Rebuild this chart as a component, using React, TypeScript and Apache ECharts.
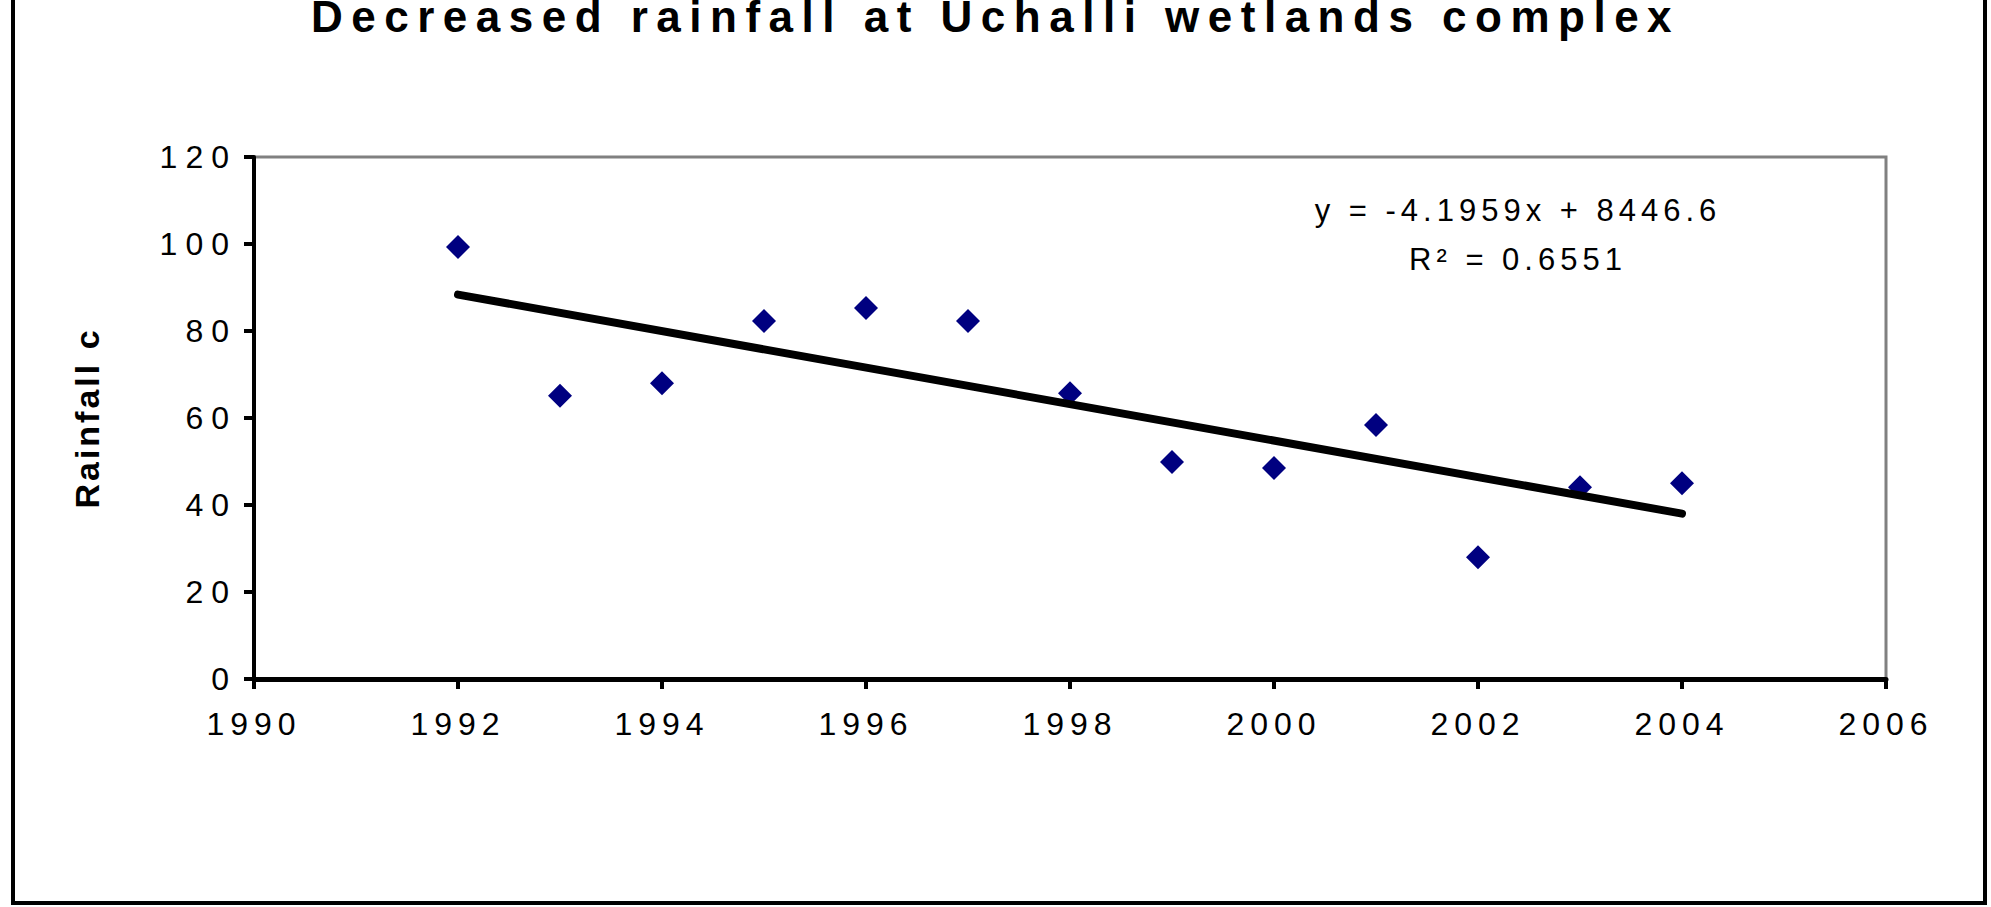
import { useEffect, useRef } from 'react';
import * as echarts from 'echarts';

const TITLE = 'Decreased rainfall at Uchalli wetlands complex';
const Y_NAME = 'Rainfall c';
const years = [1992, 1993, 1994, 1995, 1996, 1997, 1998, 1999, 2000, 2001, 2002, 2003, 2004];
const rainfall = [99.3, 65.1, 68.0, 82.3, 85.3, 82.3, 65.7, 49.9, 48.5, 58.4, 28.0, 44.1, 45.0];
const xRange = [1990, 2006];
const xStep = 2;
const yRange = [0, 120];
const yStep = 20;
const trendSlope = -4.1959;
const trendIntercept = 8446.6;
const equationText = 'y = -4.1959x + 8446.6';
const r2Text = 'R\u00B2 = 0.6551';

const FONT = '"Liberation Sans", Arial, sans-serif';

export default function App() {
  const ref = useRef<HTMLDivElement>(null);
  useEffect(() => {
    const el = ref.current;
    if (!el) return;
    const chart = echarts.init(el, undefined, { renderer: 'svg' });
    const tStart = years[0];
    const tEnd = years[years.length - 1];
    const trend = [
      [tStart, trendSlope * tStart + trendIntercept],
      [tEnd, trendSlope * tEnd + trendIntercept],
    ];
    chart.setOption({
      animation: false,
      backgroundColor: '#ffffff',
      title: {
        text: TITLE,
        left: 'center',
        top: -11,
        textStyle: { fontFamily: FONT, fontSize: 44, fontWeight: 'bold', color: '#000' },
      },
      grid: {
        left: 254,
        right: 105,
        top: 157,
        bottom: 228,
        show: true,
        borderColor: '#808080',
        borderWidth: 3,
        backgroundColor: 'transparent',
      },
      xAxis: {
        type: 'value',
        min: xRange[0],
        max: xRange[1],
        interval: xStep,
        z: 5,
        axisLine: { show: true, onZero: false, lineStyle: { color: '#000', width: 5 } },
        axisTick: { show: true, length: 10, lineStyle: { color: '#000', width: 4 } },
        splitLine: { show: false },
        axisLabel: {
          margin: 29,
          fontFamily: FONT,
          fontSize: 32,
          color: '#000',
          formatter: (v: number) => String(v),
        },
      },
      yAxis: {
        type: 'value',
        min: yRange[0],
        max: yRange[1],
        interval: yStep,
        z: 5,
        name: Y_NAME,
        nameLocation: 'middle',
        nameRotate: 90,
        nameGap: 150,
        nameTextStyle: { fontFamily: FONT, fontSize: 34, fontWeight: 'bold', color: '#000' },
        axisLine: { show: true, onZero: false, lineStyle: { color: '#000', width: 4 } },
        axisTick: { show: true, length: 10, lineStyle: { color: '#000', width: 4 } },
        splitLine: { show: false },
        axisLabel: {
          margin: 17,
          fontFamily: FONT,
          fontSize: 32,
          color: '#000',
          formatter: (v: number) => String(v),
        },
      },
      graphic: [
        {
          type: 'rect',
          shape: { x: 13, y: -20, width: 1972, height: 923 },
          style: { fill: 'none', stroke: '#000', lineWidth: 4 },
          silent: true,
        },
        {
          type: 'text',
          x: 1518,
          y: 210,
          style: {
            text: equationText,
            font: `31px ${FONT}`,
            fill: '#000',
            textAlign: 'center',
            textVerticalAlign: 'middle',
          },
        },
        {
          type: 'text',
          x: 1518,
          y: 259,
          style: {
            text: r2Text,
            font: `31px ${FONT}`,
            fill: '#000',
            textAlign: 'center',
            textVerticalAlign: 'middle',
          },
        },
      ],
      series: [
        {
          type: 'scatter',
          data: years.map((y, i) => [y, rainfall[i]]),
          symbol: 'diamond',
          symbolSize: 24,
          itemStyle: { color: '#000080', opacity: 1 },
          z: 2,
        },
        {
          type: 'line',
          data: trend,
          symbol: 'none',
          z: 3,
          lineStyle: { color: '#000', width: 8, cap: 'round' },
        },
      ],
    });

    const spacing = () => {
      el.querySelectorAll('text').forEach((t) => {
        const s = t.textContent || '';
        let ls = 0;
        if (s === TITLE) ls = 8.5;
        else if (s === Y_NAME) ls = 3;
        else if (s === equationText || s === r2Text) ls = 5;
        else if (/^\d{4}$/.test(s)) ls = 6;
        else if (/^\d+$/.test(s)) ls = 8;
        if (ls) t.setAttribute('letter-spacing', String(ls));
      });
    };
    spacing();
    chart.on('finished', spacing);
    const timer = setTimeout(spacing, 50);
    return () => {
      clearTimeout(timer);
      chart.dispose();
    };
  }, []);
  return (
    <div
      ref={ref}
      style={{ position: 'absolute', left: 0, top: 0, width: 1991, height: 907 }}
    />
  );
}
